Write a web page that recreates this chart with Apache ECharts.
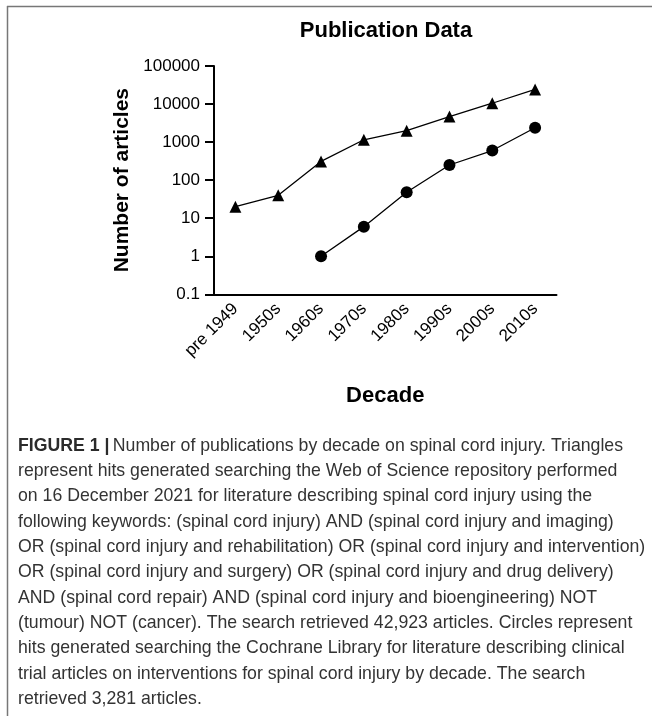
<!DOCTYPE html>
<html>
<head>
<meta charset="utf-8">
<script src="https://cdn.jsdelivr.net/npm/echarts@6/dist/echarts.min.js"></script>
<style>
html,body{margin:0;padding:0;background:#fff;}
#chart{width:652px;height:716px;}
</style>
</head>
<body>
<div id="chart"></div>
<script>
const decades = ['pre 1949','1950s','1960s','1970s','1980s','1990s','2000s','2010s'];
const webOfScience = [20, 40, 310, 1150, 2000, 4700, 10500, 24200];
const cochrane = [null, null, 1, 6, 48, 250, 600, 2380];
const yTickLabels = ['0.1','1','10','100','1000','10000','100000'];
const captionLines = [
  'represent hits generated searching the Web of Science repository performed',
  'on 16 December 2021 for literature describing spinal cord injury using the',
  'following keywords: (spinal cord injury) AND (spinal cord injury and imaging)',
  'OR (spinal cord injury and rehabilitation) OR (spinal cord injury and intervention)',
  'OR (spinal cord injury and surgery) OR (spinal cord injury and drug delivery)',
  'AND (spinal cord repair) AND (spinal cord injury and bioengineering) NOT',
  '(tumour) NOT (cancer). The search retrieved 42,923 articles. Circles represent',
  'hits generated searching the Cochrane Library for literature describing clinical',
  'trial articles on interventions for spinal cord injury by decade. The search',
  'retrieved 3,281 articles.'
];
const captionFirst = 'Number of publications by decade on spinal cord injury. Triangles';

const chart = echarts.init(document.getElementById('chart'), null, {renderer:'canvas'});
const FONT = 'Liberation Sans, Arial, sans-serif';

const option = {
  animation: false,
  backgroundColor: '#fff',
  grid: {left: 214, top: 66, width: 342.5, height: 228.3, containLabel: false},
  xAxis: {
    type: 'category',
    data: decades,
    boundaryGap: true,
    name: 'Decade',
    nameLocation: 'middle',
    nameGap: 91,
    nameTextStyle: {fontFamily: FONT, fontSize: 22, fontWeight: 'bold', color: '#000'},
    axisLine: {lineStyle: {color: '#000', width: 2}},
    axisTick: {alignWithLabel: true, length: 9, lineStyle: {color: '#000', width: 2}},
    axisLabel: {rotate: 45, margin: 12, interval: 0, fontFamily: FONT, fontSize: 17, color: '#000'},
    splitLine: {show: false}
  },
  yAxis: {
    type: 'log',
    logBase: 10,
    min: 0.1,
    max: 100000,
    name: 'Number of articles',
    nameLocation: 'middle',
    nameGap: 78,
    nameTextStyle: {fontFamily: FONT, fontSize: 21, fontWeight: 'bold', color: '#000'},
    axisLine: {show: true, lineStyle: {color: '#000', width: 2}},
    axisTick: {show: true, length: 9, lineStyle: {color: '#000', width: 2}},
    axisLabel: {
      margin: 14, fontFamily: FONT, fontSize: 17, color: '#000',
      formatter: function (v) {
        const idx = Math.round(Math.log10(v)) + 1;
        return yTickLabels[idx] !== undefined ? yTickLabels[idx] : '';
      }
    },
    splitLine: {show: false},
    minorTick: {show: false}
  },
  series: [
    {
      name: 'Web of Science',
      type: 'line',
      data: webOfScience,
      symbol: 'triangle',
      symbolSize: 12,
      itemStyle: {color: '#000'},
      lineStyle: {color: '#000', width: 1.3},
      z: 3
    },
    {
      name: 'Cochrane',
      type: 'line',
      data: cochrane,
      symbol: 'circle',
      symbolSize: 12,
      connectNulls: false,
      itemStyle: {color: '#000'},
      lineStyle: {color: '#000', width: 1.3},
      z: 3
    }
  ],
  graphic: [
    {type: 'line', shape: {x1: 7, y1: 6.5, x2: 652, y2: 6.5}, style: {stroke: '#777', lineWidth: 1.5}},
    {type: 'line', shape: {x1: 7.5, y1: 6, x2: 7.5, y2: 716}, style: {stroke: '#777', lineWidth: 1.5}},
    {
      type: 'text', x: 386, y: 31,
      style: {
        text: 'Publication Data', textAlign: 'center', textVerticalAlign: 'middle',
        fontFamily: FONT, fontSize: 22, fontWeight: 'bold', fill: '#000'
      }
    },
    {
      type: 'text', left: 18, top: 437,
      style: {
        text: '{b|FIGURE 1 |} {n|' + captionFirst + '}\n' + captionLines.map(l => '{n|' + l + '}').join('\n'),
        rich: {
          b: {fontFamily: FONT, fontSize: 17.7, fontWeight: 'bold', fill: '#2b2b2b', lineHeight: 25.3},
          n: {fontFamily: FONT, fontSize: 17.7, fill: '#333', lineHeight: 25.3}
        }
      }
    }
  ]
};
chart.setOption(option);
</script>
</body>
</html>
